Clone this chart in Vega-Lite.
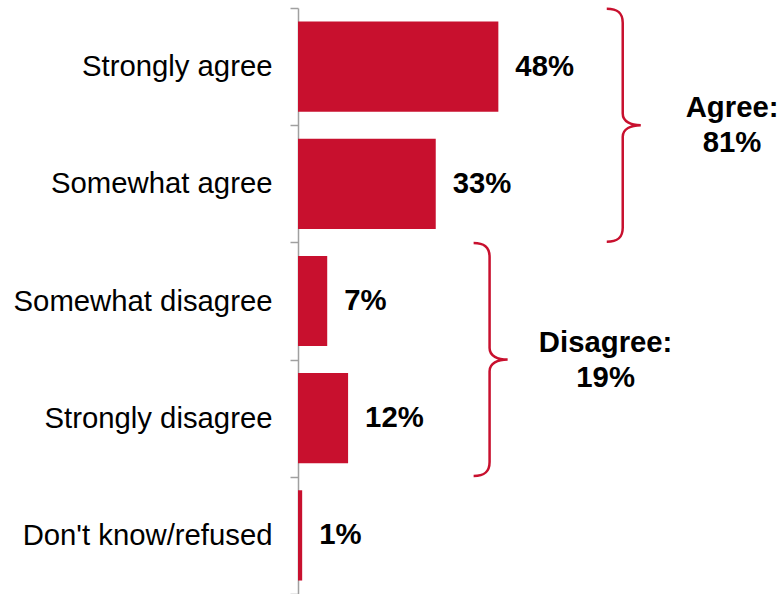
{
  "$schema": "https://vega.github.io/schema/vega-lite/v6.json",
  "width": 480,
  "height": 586,
  "autosize": {"type": "none"},
  "padding": {"left": 298, "top": 8, "right": 0, "bottom": 0},
  "background": "white",
  "config": {"view": {"stroke": null}, "font": "Liberation Sans"},
  "datasets": {
    "responses": [
      {"category": "Strongly agree", "share": 0.48},
      {"category": "Somewhat agree", "share": 0.33},
      {"category": "Somewhat disagree", "share": 0.07},
      {"category": "Strongly disagree", "share": 0.12},
      {"category": "Don't know/refused", "share": 0.01}
    ]
  },
  "layer": [
    {
      "data": {"name": "responses"},
      "mark": {"type": "bar", "color": "#C8102E", "height": {"band": 0.77}},
      "encoding": {
        "x": {"field": "share", "type": "quantitative", "scale": {"domain": [0, 1.15], "nice": false, "zero": true}, "axis": null},
        "y": {
          "field": "category", "type": "nominal",
          "scale": {"domain": ["Strongly agree", "Somewhat agree", "Somewhat disagree", "Strongly disagree", "Don't know/refused"], "paddingInner": 0, "paddingOuter": 0},
          "axis": {
            "title": null,
            "tickBand": "extent",
            "tickSize": 8,
            "tickColor": "#a0a0a0",
            "tickWidth": 1.5,
            "domainColor": "#a0a0a0",
            "domainWidth": 1.5,
            "labelFontSize": 29.3,
            "labelColor": "#000000",
            "labelPadding": 18,
            "labelLimit": 400,
            "labelFont": "Liberation Sans",
            "grid": false
          }
        }
      }
    },
    {
      "data": {"name": "responses"},
      "mark": {"type": "text", "align": "left", "baseline": "middle", "dx": 17, "fontSize": 29.3, "fontWeight": "bold", "color": "#000000"},
      "encoding": {
        "x": {"field": "share", "type": "quantitative"},
        "y": {"field": "category", "type": "nominal"},
        "text": {"field": "share", "type": "quantitative", "format": ".0%"}
      }
    },
    {
      "data": {"values": [{"category": "Strongly agree", "label": "Agree:\n81%"}]},
      "layer": [
        {
          "mark": {"type": "point", "shape": "M -0.137 -1 C -0.05 -1 0 -0.97 0 -0.88 L 0 -0.1 C 0 -0.03 0.07 0 0.155 0 C 0.07 0 0 0.03 0 0.1 L 0 0.88 C 0 0.97 -0.05 1 -0.137 1", "size": 54289, "filled": false, "stroke": "#C8102E", "strokeWidth": 2.5, "opacity": 1},
          "encoding": {
            "x": {"datum": 0.778, "type": "quantitative"},
            "y": {"field": "category", "type": "nominal", "bandPosition": 1}
          }
        },
        {
          "mark": {"type": "text", "align": "center", "baseline": "middle", "dy": -17, "fontSize": 29.3, "fontWeight": "bold", "lineHeight": 35, "lineBreak": "\n", "color": "#000000"},
          "encoding": {
            "x": {"datum": 1.04, "type": "quantitative"},
            "y": {"field": "category", "type": "nominal", "bandPosition": 1},
            "text": {"field": "label"}
          }
        }
      ]
    },
    {
      "data": {"values": [{"category": "Somewhat disagree", "label": "Disagree:\n19%"}]},
      "layer": [
        {
          "mark": {"type": "point", "shape": "M -0.137 -1 C -0.05 -1 0 -0.97 0 -0.88 L 0 -0.1 C 0 -0.03 0.07 0 0.155 0 C 0.07 0 0 0.03 0 0.1 L 0 0.88 C 0 0.97 -0.05 1 -0.137 1", "size": 54289, "filled": false, "stroke": "#C8102E", "strokeWidth": 2.5, "opacity": 1},
          "encoding": {
            "x": {"datum": 0.459, "type": "quantitative"},
            "y": {"field": "category", "type": "nominal", "bandPosition": 1}
          }
        },
        {
          "mark": {"type": "text", "align": "center", "baseline": "middle", "dy": -17, "fontSize": 29.3, "fontWeight": "bold", "lineHeight": 35, "lineBreak": "\n", "color": "#000000"},
          "encoding": {
            "x": {"datum": 0.737, "type": "quantitative"},
            "y": {"field": "category", "type": "nominal", "bandPosition": 1},
            "text": {"field": "label"}
          }
        }
      ]
    }
  ]
}
